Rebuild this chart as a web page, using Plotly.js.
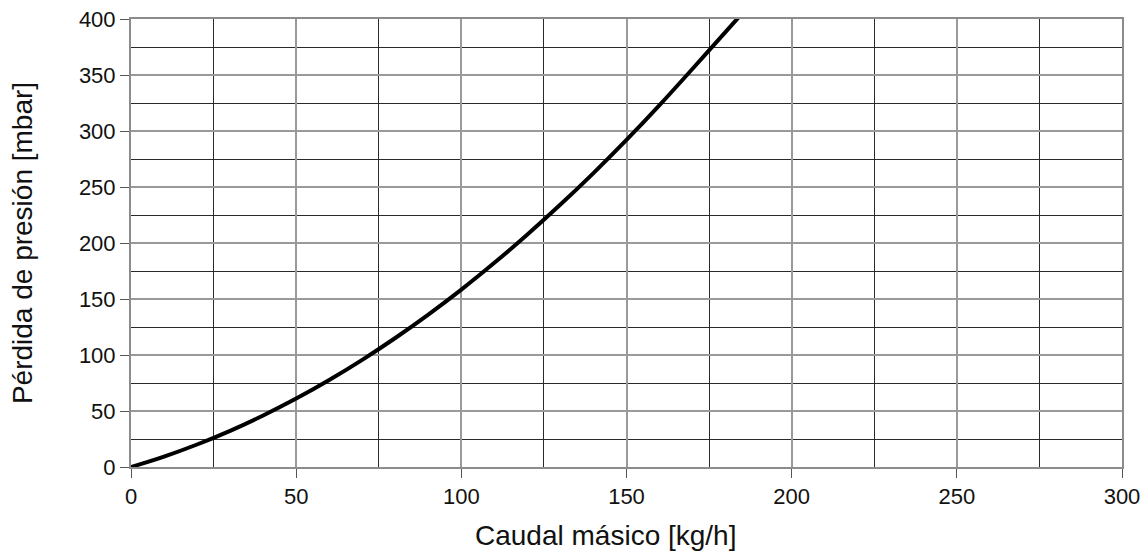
<!DOCTYPE html>
<html>
<head>
<meta charset="utf-8">
<script src="https://cdn.plot.ly/plotly-3.0.1.min.js"></script>
<style>
html,body{margin:0;padding:0;background:#fff;}
#chart{width:1147px;height:554px;}
</style>
</head>
<body>
<div id="chart"></div>
<script>
// Data
const caudal = [0, 10, 20, 30, 40, 50, 60, 70, 80, 90, 100, 110, 120, 130, 140, 150, 160, 170, 180, 185];
const perdida = [0, 9.3, 20.1, 32.3, 46.0, 61.1, 77.7, 95.7, 115.2, 136.1, 158.4, 182.3, 207.6, 234.3, 262.4, 292, 323.1, 355.6, 388.5, 405];
const xTitle = 'Caudal másico [kg/h]';
const yTitle = 'Pérdida de presión [mbar]';

const font = 'Arial, "Liberation Sans", Helvetica, sans-serif';

const trace = {
  x: caudal, y: perdida, type: 'scatter', mode: 'lines',
  line: {color: '#000', width: 4, shape: 'spline', smoothing: 1},
  hoverinfo: 'x+y', showlegend: false
};

const axisCommon = {
  showline: true, linecolor: '#8c8c8c', linewidth: 2, mirror: true,
  showgrid: true, gridcolor: '#9a9a9a', gridwidth: 2,
  ticks: 'outside', ticklen: 9, tickwidth: 1, tickcolor: '#555',
  zeroline: false,
  tickfont: {family: font, size: 22, color: '#111'},
  minor: {dtick: 25, showgrid: true, gridcolor: '#2a2a2a', gridwidth: 1, ticks: ''}
};

const layout = {
  width: 1147, height: 554,
  margin: {l: 131, r: 25, t: 19, b: 87},
  paper_bgcolor: '#fff', plot_bgcolor: '#fff',
  font: {family: font, color: '#111'},
  xaxis: Object.assign({}, axisCommon, {
    range: [0, 300], dtick: 50, tick0: 0
  }),
  yaxis: Object.assign({}, axisCommon, {
    range: [0, 400], dtick: 50, tick0: 0,
    title: {text: yTitle, font: {family: font, size: 28, color: '#111'}, standoff: 38}
  }),
  annotations: [{
    text: xTitle, xref: 'paper', yref: 'paper', x: 0.4785, y: -0.1138,
    xanchor: 'center', yanchor: 'top', showarrow: false,
    font: {family: font, size: 28, color: '#111'}
  }]
};

Plotly.newPlot('chart', [trace], layout, {displayModeBar: false, staticPlot: true});
</script>
</body>
</html>
